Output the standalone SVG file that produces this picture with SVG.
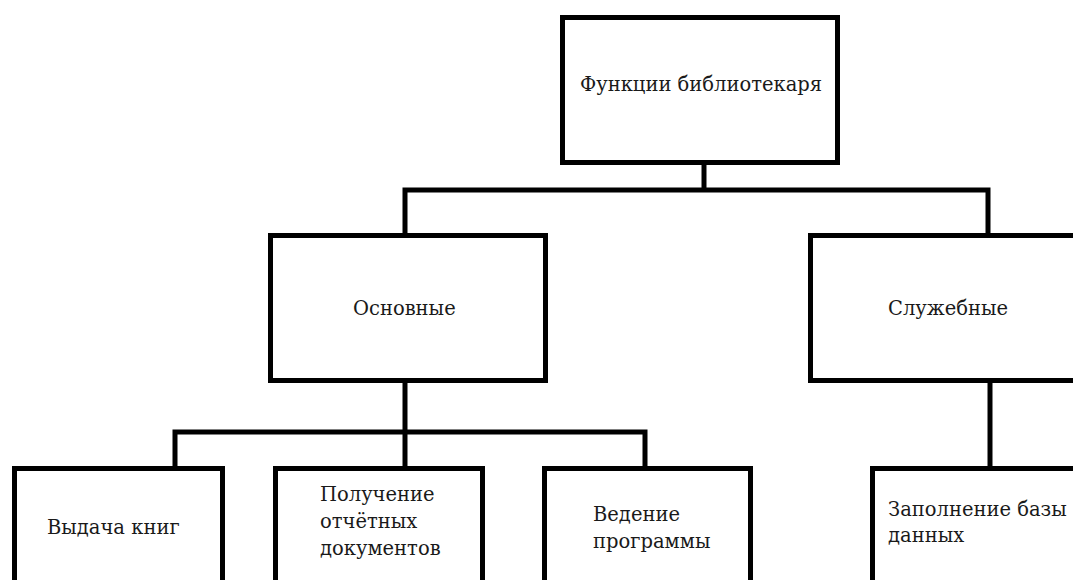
<svg xmlns="http://www.w3.org/2000/svg" width="1073" height="580" viewBox="0 0 1073 580">
<style>
.box{fill:#fff;stroke:#000;stroke-width:5}
.con{fill:none;stroke:#000;stroke-width:5}
.t{font-family:'DejaVu Serif',serif;font-size:19.5px;fill:#1a1a1a}
</style>
<rect width="1073" height="580" fill="#fff"/>
<g id="connectors">
<path class="con" d="M704,165 V190"/>
<path class="con" d="M405,235 V190 H988 V235"/>
<path class="con" d="M405,383 V466"/>
<path class="con" d="M175,468 V432 H645 V468"/>
<path class="con" d="M990,383 V468"/>
</g>
<g id="root">
<rect class="box" x="562.5" y="17.5" width="275" height="145"/>
<text class="t" x="580" y="91">Функции библиотекаря</text>
</g>
<g id="osnovnye">
<rect class="box" x="270.5" y="235.5" width="275" height="145"/>
<text class="t" x="353" y="315">Основные</text>
</g>
<g id="sluzhebnye">
<rect class="box" x="810.5" y="235.5" width="300" height="145"/>
<text class="t" x="888" y="315">Служебные</text>
</g>
<g id="vydacha">
<rect class="box" x="14.5" y="468.5" width="208" height="150"/>
<text class="t" x="47" y="534">Выдача книг</text>
</g>
<g id="poluchenie">
<rect class="box" x="275.5" y="468.5" width="207" height="150"/>
<text class="t" x="320" y="501">Получение</text>
<text class="t" x="320" y="528">отчётных</text>
<text class="t" x="320" y="555">документов</text>
</g>
<g id="vedenie">
<rect class="box" x="544.5" y="468.5" width="206" height="150"/>
<text class="t" x="593" y="521">Ведение</text>
<text class="t" x="593" y="548">программы</text>
</g>
<g id="zapolnenie">
<rect class="box" x="872.5" y="468.5" width="250" height="150"/>
<text class="t" x="888" y="516">Заполнение базы</text>
<text class="t" x="888" y="542">данных</text>
</g>
</svg>
